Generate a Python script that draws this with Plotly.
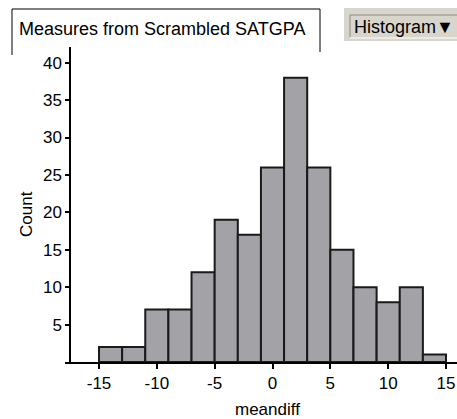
import plotly.graph_objects as go

# Data
bin_centers = [-14, -12, -10, -8, -6, -4, -2, 0, 2, 4, 6, 8, 10, 12, 14]
counts = [2, 2, 7, 7, 12, 19, 17, 26, 38, 26, 15, 10, 8, 10, 1]
bin_width = 2
x_ticks = [-15, -10, -5, 0, 5, 10, 15]
y_ticks = [5, 10, 15, 20, 25, 30, 35, 40]

W, H = 457, 419
L, R, T, B = 65, 0, 47, 57
pw, ph = W - L - R, H - T - B

def px(x):
    return (x - L) / pw

def py(y):
    return (H - B - y) / ph

FONT = "Liberation Sans, Arial, sans-serif"

fig = go.Figure(go.Bar(
    x=bin_centers, y=counts, width=bin_width,
    marker=dict(color="#a3a2a7", line=dict(color="#1a1a1a", width=2)),
    hoverinfo="skip",
))

fig.update_layout(
    width=W, height=H,
    margin=dict(l=L, r=R, t=T, b=B, autoexpand=False),
    plot_bgcolor="white", paper_bgcolor="white",
    showlegend=False,
    xaxis=dict(
        range=[-17.94, 15.95], tickvals=x_ticks, ticktext=[str(v) for v in x_ticks],
        automargin=False,
        showgrid=False, zeroline=False, showline=True, linecolor="black", linewidth=1.5,
        ticks="outside", ticklen=5, tickwidth=1.5, tickcolor="black",
        tickfont=dict(family=FONT, size=17, color="black"),
    ),
    yaxis=dict(
        range=[0, 42.1], tickvals=y_ticks, ticktext=[str(v) for v in y_ticks],
        anchor="free", position=px(70), automargin=False,
        showgrid=False, zeroline=False, showline=True, linecolor="black", linewidth=1.5,
        ticks="outside", ticklen=4, tickwidth=1.5, tickcolor="black",
        tickfont=dict(family=FONT, size=17, color="black"),
    ),
    shapes=[
        dict(type="path", xref="paper", yref="paper",
             path=f"M {px(12)},{py(55)} L {px(12)},{py(9)} L {px(320)},{py(9)} L {px(320)},{py(52)}",
             line=dict(color="black", width=1)),
        dict(type="rect", xref="paper", yref="paper",
             x0=px(344), x1=px(457), y0=py(41), y1=py(8),
             fillcolor="#d8d5cd", line=dict(width=0)),
        dict(type="path", xref="paper", yref="paper",
             path=f"M {px(350)},{py(37)} L {px(350)},{py(15)} L {px(457)},{py(15)}",
             line=dict(color="#8a8a8a", width=1)),
        dict(type="line", xref="paper", yref="paper",
             x0=px(350), x1=px(457), y0=py(38), y1=py(38),
             line=dict(color="white", width=1)),
    ],
    annotations=[
        dict(text="Measures from Scrambled SATGPA", xref="paper", yref="paper",
             x=px(17), y=py(29), xanchor="left", yanchor="middle", showarrow=False,
             font=dict(family=FONT, size=18, color="black")),
        dict(text="Histogram\u25bc", xref="paper", yref="paper",
             x=px(352), y=py(27), xanchor="left", yanchor="middle", showarrow=False,
             font=dict(family=FONT, size=18, color="black")),
        dict(text="meandiff", xref="paper", yref="paper",
             x=px(267), y=py(409), xanchor="center", yanchor="middle", showarrow=False,
             font=dict(family=FONT, size=17, color="black")),
        dict(text="Count", xref="paper", yref="paper", textangle=-90,
             x=px(26), y=py(214), xanchor="center", yanchor="middle", showarrow=False,
             font=dict(family=FONT, size=17, color="black")),
    ],
)

fig.write_html(
    "out.html",
    config={"displayModeBar": False},
    post_script="document.body.style.margin='0';document.body.style.padding='0';document.body.style.overflow='hidden';",
)
